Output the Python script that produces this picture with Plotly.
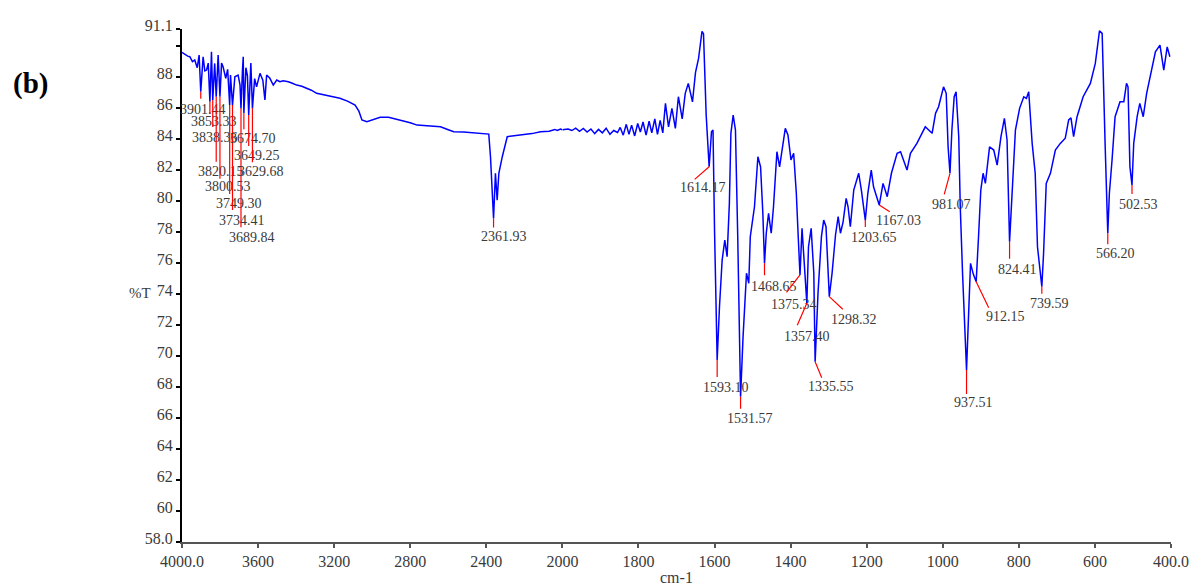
import numpy as np
import plotly.graph_objects as go

# ---------------- data ----------------
wavenumber = [
    4000, 3985, 3970, 3959, 3945, 3933, 3920, 3910, 3901.44, 3889, 3880, 3871, 3862, 3853.33,
    3845, 3838.36, 3828, 3820.15, 3810, 3800.53, 3792, 3784, 3770, 3760, 3749.30, 3745, 3734.41,
    3722, 3705, 3695, 3689.84, 3682, 3678, 3674.70, 3664, 3656, 3649.25, 3638, 3629.68, 3618,
    3608, 3590, 3575, 3564, 3555, 3538, 3520, 3502, 3485, 3468, 3441, 3420, 3397, 3370, 3344,
    3320, 3292, 3274, 3230, 3170, 3130, 3090, 3070, 3054, 3028, 2990, 2958, 2914, 2880, 2852,
    2800, 2764, 2700, 2641, 2600, 2571, 2520, 2481, 2420, 2387, 2378, 2369, 2361.93, 2352, 2343,
    2334, 2316, 2290, 2250, 2220, 2160, 2115, 2070, 2040, 2027, 2010,
    2000, 1985, 1975, 1965, 1955, 1945, 1935, 1925, 1915, 1905, 1895, 1885, 1875, 1865, 1855,
    1848, 1840, 1832, 1825, 1818, 1810, 1802, 1795, 1788, 1780, 1772, 1765, 1757, 1750, 1743,
    1736, 1729, 1721, 1712, 1703, 1695, 1685, 1677, 1669, 1658, 1650, 1642, 1633, 1629, 1622,
    1617, 1614.17,
    1608, 1604, 1600, 1593.10, 1587, 1580, 1573, 1567, 1561, 1557, 1551, 1545, 1539, 1531.57,
    1525, 1516, 1510, 1506, 1495, 1486, 1479, 1473, 1468.65, 1464, 1458, 1451, 1445, 1436, 1429,
    1422, 1414, 1407, 1399, 1392, 1385, 1380, 1375.34, 1370, 1364, 1357.40, 1353, 1346, 1339,
    1335.55, 1328, 1319, 1313, 1307, 1298.32, 1291, 1282, 1275, 1269, 1262, 1254, 1249, 1243,
    1234, 1221, 1214, 1203.65, 1197, 1188, 1182, 1167.03, 1157, 1146, 1135, 1120, 1111, 1094,
    1085, 1068, 1046, 1028, 1019, 1011, 998, 991, 986, 981.07, 976, 970, 965, 958, 954, 948,
    937.51, 932, 927, 920, 912.15, 906, 900, 894, 888, 877, 866, 857, 847, 838, 831, 824.41, 818,
    809, 798, 787, 780, 774, 765, 757, 751, 739.59, 735, 728, 717, 704, 691, 678, 669, 663, 656,
    647, 631, 612, 599, 588, 581, 577, 573, 566.20, 562, 555, 547, 534, 524, 517, 513, 508,
    502.53, 498, 489, 482, 473, 464, 452, 441, 429, 419, 410, 403,
]
transmittance = [
    89.59, 89.45, 89.35, 89.31, 89.00, 89.10, 88.60, 89.42, 87.05, 89.31, 88.40, 88.45, 88.90, 86.41,
    89.63, 86.52, 88.88, 86.73, 89.42, 86.73, 88.90, 88.66, 87.92, 88.50, 86.19, 88.13, 86.19,
    88.02, 88.13, 87.50, 85.98, 88.45, 89.31, 85.66, 88.60, 88.10, 85.55, 88.90, 85.98, 87.90,
    87.37, 88.24, 87.80, 86.52, 88.13, 87.92, 87.48, 87.81, 87.70, 87.76, 87.70, 87.60, 87.48, 87.40, 87.27,
    87.15, 86.95, 86.90, 86.80, 86.63, 86.45, 86.19, 85.80, 85.23, 85.12, 85.30, 85.40, 85.40, 85.30, 85.23,
    85.05, 84.90, 84.85, 84.79, 84.60, 84.47, 84.45, 84.41, 84.36, 84.32, 82.86, 80.71, 78.88, 81.79, 80.06,
    81.79, 82.86, 84.15, 84.20, 84.26, 84.35, 84.47, 84.50, 84.62, 84.55, 84.65,
    84.60, 84.65, 84.55, 84.70, 84.50, 84.68, 84.45, 84.65, 84.35, 84.62, 84.40, 84.70, 84.30, 84.55, 84.42,
    84.75, 84.25, 84.95, 84.30, 84.90, 84.20, 85.00, 84.45, 85.10, 84.25, 85.15, 84.40, 85.30, 84.30, 85.20,
    84.40, 86.30, 84.79, 85.98, 84.69, 86.73, 85.30, 86.95, 87.59, 86.40, 88.30, 89.20, 90.95, 90.80, 85.55,
    83.08, 82.21,
    84.47, 84.58, 78.13, 69.74, 73.18, 76.19, 77.48, 76.41, 79.85, 84.37, 85.55, 84.58, 77.70, 67.37,
    71.25, 75.34, 74.69, 77.70, 79.63, 82.86, 82.21, 79.21, 75.98, 77.92, 79.21, 77.92, 79.63, 83.18, 82.21,
    83.50, 84.69, 84.26, 82.65, 83.08, 80.50, 77.70, 75.23, 78.24, 75.76, 73.40, 77.05, 78.24, 75.34,
    69.63, 74.05, 77.70, 78.77, 78.34, 73.83, 75.34, 77.81, 78.99, 77.92, 78.66, 80.17, 79.63, 78.34,
    80.71, 81.79, 80.71, 78.77, 80.50, 82.00, 80.92, 79.74, 81.14, 80.28, 81.79, 83.08, 83.18, 82.00,
    83.08, 83.72, 84.79, 84.37, 85.66, 86.08, 87.37, 86.95, 83.50, 81.79, 84.58, 86.73, 87.05, 84.15, 79.63, 75.34,
    69.10, 72.75, 75.98, 75.30, 74.79, 77.70, 80.71, 81.79, 81.14, 83.50, 83.29, 82.32, 84.15, 85.34, 83.94, 77.37, 80.28,
    84.58, 85.98, 86.73, 86.63, 87.05, 83.72, 81.79, 77.05, 74.47, 76.63, 81.14, 81.79, 83.29, 83.72, 84.05, 85.23, 85.37, 84.15,
    85.44, 86.73, 87.59, 88.88, 90.98, 90.82, 86.52, 83.50, 77.92, 80.50, 82.65, 85.44, 86.41, 86.41, 87.59, 87.37, 82.21,
    81.03, 83.72, 85.44, 86.30, 85.44, 86.95, 88.45, 89.63, 90.06, 88.45, 89.95, 89.31,
]
assert len(wavenumber) == len(transmittance)

peak_wn = [3901.44, 3853.33, 3838.36, 3820.15, 3800.53, 3749.30, 3734.41, 3689.84, 3674.70,
           3649.25, 3629.68, 2361.93, 1614.17, 1593.10, 1531.57, 1468.65, 1375.34, 1357.40,
           1335.55, 1298.32, 1203.65, 1167.03, 981.07, 937.51, 912.15, 824.41, 739.59, 566.20, 502.53]
peak_T = [87.05, 86.41, 86.52, 86.73, 86.73, 86.19, 86.19, 85.98, 85.66,
          85.55, 85.98, 78.88, 82.21, 69.74, 67.37, 75.98, 75.23, 73.40,
          69.63, 73.83, 78.77, 79.74, 81.79, 69.10, 74.79, 77.37, 74.47, 77.92, 81.03]
peak_labels = [f"{w:.2f}" for w in peak_wn]

x_left_ticks = [4000, 3600, 3200, 2800, 2400]
x_left_text = ["4000.0", "3600", "3200", "2800", "2400"]
x_right_ticks = [2000, 1800, 1600, 1400, 1200, 1000, 800, 600, 400]
x_right_text = ["2000", "1800", "1600", "1400", "1200", "1000", "800", "600", "400.0"]
y_ticks = [58, 60, 62, 64, 66, 68, 70, 72, 74, 76, 78, 80, 82, 84, 86, 88, 90, 91.1]
y_text = ["58.0", "60", "62", "64", "66", "68", "70", "72", "74", "76", "78", "80",
          "82", "84", "86", "88", "", "91.1"]

# ---------------- layout of callouts (pixel offsets from the peak point) ----------------
line_off = [(0, 8), (0, 13), (0, 28), (0, 66), (0, 83), (0, 90), (0, 106), (0, 120), (0, 17),
            (0, 32), (0, 55), (0, 10), (-15, 13), (0, 18), (0, 13), (0, 13), (-14, 18), (-10, 23),
            (7, 17), (14, 13), (0, 8), (11, 7), (-6, 22), (0, 25), (13, 27), (0, 18), (0, 8), (0, 12), (0, 10)]
text_off = [(2, 18), (4, 20), (2, 38), (5, 75), (8, 90), (9, 98), (9, 115), (11, 129), (9, 25),
            (8, 40), (9, 63), (10, 18), (-6, 21), (9, 27), (9, 22), (9, 23), (-6, 30), (0, 33),
            (16, 25), (25, 23), (9, 17), (19, 15), (2, 31), (7, 33), (29, 35), (8, 28), (8, 17), (8, 20), (7, 19)]

FONT = "Liberation Serif"
ML, MR, MT, MB = 182, 23, 29, 46
W, H = 1194, 588
PW, PH = W - ML - MR, H - MT - MB

wn = np.array(wavenumber)
tr = np.array(transmittance)
left = wn >= 2000
right = wn <= 2000

fig = go.Figure()
fig.add_trace(go.Scatter(x=wn[left], y=tr[left], mode="lines", xaxis="x", yaxis="y",
                         line=dict(color="#0000FF", width=1.5), showlegend=False))
fig.add_trace(go.Scatter(x=wn[right], y=tr[right], mode="lines", xaxis="x2", yaxis="y",
                         line=dict(color="#0000FF", width=1.5), showlegend=False))

annotations = []
for w, t, lab, (ldx, ldy), (tdx, tdy) in zip(peak_wn, peak_T, peak_labels, line_off, text_off):
    xr = "x" if w >= 2000 else "x2"
    annotations.append(dict(x=w, y=t, xref=xr, yref="y", ax=ldx, ay=ldy, text=" ",
                            showarrow=True, arrowhead=0, arrowwidth=1.2, arrowcolor="#FF0000",
                            standoff=0, startstandoff=0, borderpad=0, font=dict(size=1)))
    annotations.append(dict(x=w, y=t, xref=xr, yref="y", xshift=tdx, yshift=-tdy, text=lab,
                            showarrow=False, xanchor="center", yanchor="middle",
                            font=dict(family=FONT, size=14, color="#3a3a3a")))


def px2paper(px, py):
    return (px - ML) / PW, 1 - (py - MT) / PH


bx, by = px2paper(30, 83)
annotations.append(dict(x=bx, y=by, xref="paper", yref="paper", text="<b>(b)</b>", showarrow=False,
                        xanchor="center", yanchor="middle", font=dict(family=FONT, size=29, color="#000")))
tx, ty = px2paper(140, 293)
annotations.append(dict(x=tx, y=ty, xref="paper", yref="paper", text="%T", showarrow=False,
                        xanchor="center", yanchor="middle", font=dict(family=FONT, size=15, color="#3a3a3a")))
cx, cy = px2paper(676, 577)
annotations.append(dict(x=cx, y=cy, xref="paper", yref="paper", text="cm-1", showarrow=False,
                        xanchor="center", yanchor="middle", font=dict(family=FONT, size=16, color="#3a3a3a")))

tickfont = dict(family=FONT, size=16, color="#3a3a3a")
xcommon = dict(showline=True, linecolor="#555555", linewidth=2, ticks="outside", ticklen=4,
               tickcolor="#555555", tickwidth=1.5, showgrid=False, zeroline=False,
               tickfont=tickfont, anchor="y", fixedrange=True, automargin=False)
split = 5 / 13
fig.update_layout(
    width=W, height=H,
    margin=dict(l=ML, r=MR, t=MT, b=MB, pad=0, autoexpand=False),
    paper_bgcolor="white", plot_bgcolor="white",
    xaxis=dict(domain=[0, split], range=[4000, 2000], tickmode="array",
               tickvals=x_left_ticks, ticktext=x_left_text, **xcommon),
    xaxis2=dict(domain=[split, 1], range=[2000, 400], tickmode="array",
                tickvals=x_right_ticks, ticktext=x_right_text, **xcommon),
    yaxis=dict(range=[58, 91.1], tickmode="array", tickvals=y_ticks, ticktext=y_text,
               showline=True, linecolor="#000000", linewidth=2, ticks="outside", ticklen=4,
               tickcolor="#000000", tickwidth=1.5, showgrid=False, zeroline=False,
               tickfont=tickfont, ticklabelshift=-4, fixedrange=True, automargin=False),
    annotations=annotations,
    showlegend=False,
)

fig.write_html(
    "out.html",
    config={"displayModeBar": False},
    post_script="document.body.style.margin='0';document.body.style.overflow='hidden';",
)
